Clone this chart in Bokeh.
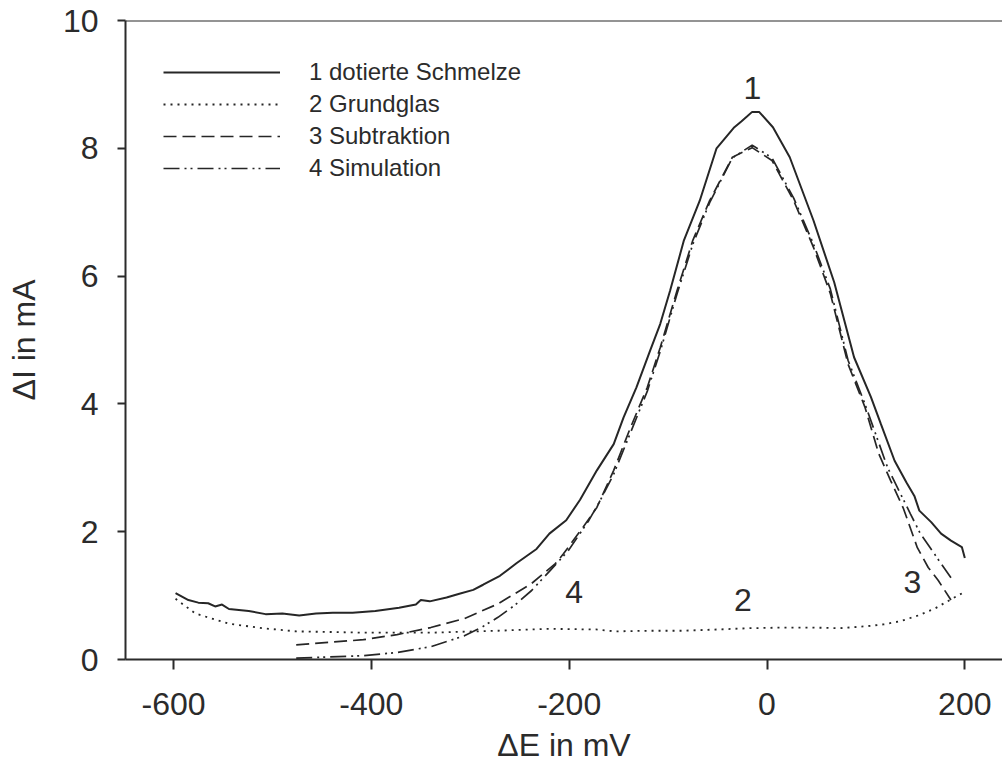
from bokeh.plotting import figure
from bokeh.models import (Range1d, Legend, LegendItem, Span, FixedTicker, ColumnDataSource,
                          PrintfTickFormatter, Title)
from bokeh.core.properties import value
from bokeh.embed import file_html
from bokeh.resources import INLINE

# --- data ---
e_schmelze = [-598, -585, -575, -565, -558, -551, -544, -524, -507, -490, -473, -456, -439, -419,
              -396, -372, -355, -350, -341, -324, -311, -297, -287, -270, -253, -233, -220, -203,
              -189, -172, -155, -145, -132, -118, -108, -98, -84, -68, -51, -33, -26, -20, -15, -8,
              6, 23, 47, 68, 88, 105, 115, 129, 141, 149, 154, 166, 176, 186, 197, 200]
i_schmelze = [1.04, 0.93, 0.89, 0.88, 0.83, 0.86, 0.79, 0.76, 0.71, 0.72, 0.69, 0.72, 0.73, 0.73,
              0.76, 0.81, 0.86, 0.93, 0.91, 0.97, 1.03, 1.09, 1.17, 1.31, 1.51, 1.73, 1.97, 2.18,
              2.50, 2.96, 3.37, 3.79, 4.26, 4.84, 5.25, 5.77, 6.56, 7.18, 8.00, 8.33, 8.42, 8.50, 8.57, 8.57,
              8.33, 7.86, 6.87, 5.90, 4.73, 4.11, 3.69, 3.11, 2.77, 2.56, 2.33, 2.15, 1.97, 1.86, 1.76, 1.59]

e_grundglas = [-598, -578, -544, -510, -476, -440, -408, -340, -272, -221, -173, -153, -120, -86,
               -50, -17, 16, 45, 74, 100, 118, 135, 153, 170, 187, 200]
i_grundglas = [0.95, 0.72, 0.56, 0.49, 0.44, 0.43, 0.42, 0.42, 0.45, 0.48, 0.47, 0.44, 0.45, 0.45,
               0.47, 0.49, 0.50, 0.50, 0.49, 0.52, 0.55, 0.60, 0.69, 0.80, 0.95, 1.06]

e_subtraktion = [-476, -442, -408, -374, -340, -306, -272, -238, -214, -206, -186, -172, -155, -138,
                 -121, -108, -91, -75, -58, -35, -15, 5, 27, 47, 64, 82, 99, 113, 125, 138, 152, 163, 173, 186]
i_subtraktion = [0.23, 0.27, 0.31, 0.39, 0.50, 0.64, 0.87, 1.19, 1.50, 1.65, 2.07, 2.38, 2.96, 3.63,
                 4.26, 4.88, 5.77, 6.56, 7.18, 7.86, 8.01, 7.81, 7.18, 6.45, 5.73, 4.62, 3.95, 3.22, 2.80, 2.36, 1.75, 1.44, 1.24, 0.93]

e_simulation = [-476, -442, -408, -374, -340, -306, -289, -272, -255, -238, -220, -201, -180, -170,
                -155, -138, -121, -108, -91, -75, -58, -35, -15, 5, 27, 47, 64, 82, 99, 122, 145, 155, 165, 176, 186]
i_simulation = [0.02, 0.04, 0.06, 0.11, 0.20, 0.37, 0.50, 0.66, 0.85, 1.08, 1.38, 1.70, 2.18, 2.45,
                2.90, 3.55, 4.20, 4.82, 5.72, 6.50, 7.15, 7.85, 8.05, 7.85, 7.22, 6.50, 5.80, 4.68, 4.00, 3.00, 2.28, 1.97, 1.75, 1.50, 1.28]

series_names = ["1 dotierte Schmelze", "2 Grundglas", "3 Subtraktion", "4 Simulation"]

curve_labels = ["1", "2", "3", "4"]
curve_label_e = [-14.7, -24.3, 147.0, -195.0]
curve_label_i = [8.95, 0.93, 1.22, 1.05]

x_ticks = [-600, -400, -200, 0, 200]
y_ticks = [0, 2, 4, 6, 8, 10]
x_title = "ΔE in mV"
y_title = "ΔI in mA"

# --- style ---
FONT = "Liberation Sans"
INK = "#2b2b2b"
LINE = "#262626"

p = figure(width=1002, height=778,
           x_range=Range1d(-648.6, 238.1), y_range=Range1d(0, 10),
           output_backend="svg", toolbar_location=None,
           min_border_left=125, min_border_right=0, min_border_top=20, min_border_bottom=119)
p.grid.visible = False
p.outline_line_color = None
p.background_fill_color = "white"
p.border_fill_color = "white"

r1 = p.line(e_schmelze, i_schmelze, line_color=LINE, line_width=2.0)
r2 = p.line(e_grundglas, i_grundglas, line_color=LINE, line_width=1.8, line_dash="2 5")
r3 = p.line(e_subtraktion, i_subtraktion, line_color=LINE, line_width=1.7, line_dash="13 6")
r4 = p.line(e_simulation, i_simulation, line_color=LINE, line_width=1.7, line_dash="16 5 2 4 2 5")

src = ColumnDataSource(dict(x=curve_label_e, y=curve_label_i, t=curve_labels))
p.text(x="x", y="y", text="t", source=src, text_font=value(FONT), text_font_size="32px",
       text_color=INK, text_align="center", text_baseline="alphabetic")

top = Span(location=10, dimension="width", line_color=INK, line_width=2)
p.add_layout(top)

for ax in (p.xaxis[0], p.yaxis[0]):
    ax.axis_line_color = INK
    ax.axis_line_width = 2
    ax.major_tick_line_color = INK
    ax.major_tick_line_width = 2
    ax.major_tick_in = 0
    ax.minor_tick_line_color = None
    ax.major_label_text_font = FONT
    ax.major_label_text_font_size = "32px"
    ax.major_label_text_color = INK
    ax.axis_label_text_font = FONT
    ax.axis_label_text_font_size = "32px"
    ax.axis_label_text_font_style = "normal"
    ax.axis_label_text_color = INK
    ax.formatter = PrintfTickFormatter(format="%d")

p.xaxis[0].ticker = FixedTicker(ticks=x_ticks)
p.yaxis[0].ticker = FixedTicker(ticks=y_ticks)
p.xaxis[0].major_tick_out = 10
p.yaxis[0].major_tick_out = 8
p.xaxis[0].major_label_standoff = 23
p.yaxis[0].major_label_standoff = 19
p.yaxis[0].axis_label = y_title
p.yaxis[0].axis_label_standoff = 18

# x-axis title as a title panel below the axis
xt = Title(text=x_title, align="center", vertical_align="bottom", standoff=14,
           text_font=FONT, text_font_size="32px", text_font_style="normal", text_color=INK)
p.add_layout(xt, "below")

legend = Legend(items=[LegendItem(label=series_names[i], renderers=[r]) for i, r in enumerate([r1, r2, r3, r4])],
                location=(38, 477), orientation="vertical")
legend.border_line_color = None
legend.background_fill_alpha = 0
legend.padding = 0
legend.margin = 0
legend.glyph_width = 117
legend.glyph_height = 20
legend.label_height = 20
legend.label_standoff = 29
legend.spacing = 4
legend.label_text_font = FONT
legend.label_text_font_size = "24px"
legend.label_text_color = INK
p.add_layout(legend)

open("out.html", "w").write(file_html(p, INLINE))
